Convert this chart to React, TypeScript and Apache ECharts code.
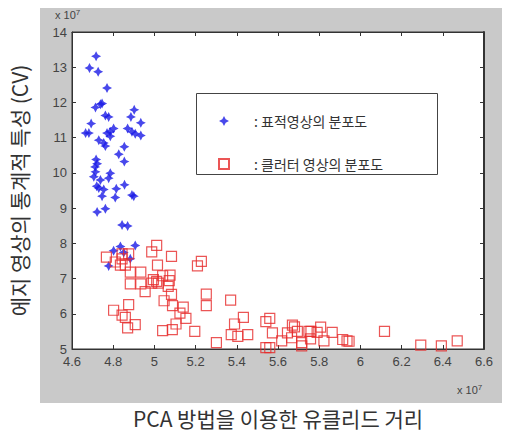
import React, { useEffect, useRef } from "react";
import * as echarts from "echarts";

// values are in units of 10^7
const targetX = [4.717, 4.685, 4.727, 4.770, 4.746, 4.738, 4.714, 4.762, 4.778, 4.693, 4.666, 4.682, 4.730, 4.754, 4.762, 4.770, 4.786, 4.785, 4.802, 4.902, 4.886, 4.934, 4.870, 4.891, 4.907, 4.934, 4.854, 4.827, 4.854, 4.717, 4.722, 4.712, 4.714, 4.786, 4.706, 4.738, 4.778, 4.720, 4.730, 4.754, 4.746, 4.815, 4.855, 4.810, 4.891, 4.900, 4.722, 4.762, 4.843, 4.870, 4.802, 4.835, 4.907, 4.778, 4.883, 4.851];
const targetY = [13.31, 12.98, 12.87, 12.41, 11.97, 11.95, 11.86, 11.63, 11.59, 11.40, 11.13, 11.13, 10.93, 10.85, 10.76, 11.13, 11.04, 11.17, 11.26, 11.79, 11.59, 11.42, 11.26, 11.17, 11.11, 11.06, 10.74, 10.53, 10.32, 10.38, 10.26, 10.17, 10.03, 9.99, 9.89, 9.80, 9.85, 9.62, 9.57, 9.53, 9.34, 9.55, 9.66, 9.30, 9.37, 9.34, 8.89, 8.98, 8.52, 8.49, 7.79, 7.91, 7.94, 7.36, 7.56, 7.74];

const clutterX = [4.767, 4.810, 4.843, 4.843, 4.835, 4.859, 4.875, 4.883, 4.883, 4.934, 4.934, 4.955, 4.987, 5.011, 5.083, 5.015, 4.995, 5.011, 4.987, 5.019, 5.040, 5.076, 5.072, 5.067, 5.083, 5.047, 5.088, 5.140, 5.124, 5.153, 5.105, 5.087, 5.040, 4.875, 4.802, 4.843, 4.859, 4.870, 4.907, 5.196, 5.209, 5.228, 5.252, 5.252, 5.301, 5.370, 5.389, 5.432, 5.373, 5.405, 5.453, 5.541, 5.560, 5.541, 5.560, 5.573, 5.618, 5.646, 5.670, 5.680, 5.694, 5.666, 5.715, 5.715, 5.750, 5.760, 5.758, 5.790, 5.807, 5.823, 5.863, 5.914, 5.935, 5.945, 6.117, 6.293, 6.393, 6.470];
const clutterY = [7.61, 7.47, 7.70, 7.56, 7.38, 7.38, 7.70, 7.18, 6.85, 7.18, 6.85, 6.63, 7.76, 7.94, 7.63, 7.38, 6.97, 6.92, 6.87, 6.87, 7.08, 7.10, 6.94, 6.78, 6.55, 6.37, 6.23, 6.19, 6.02, 5.87, 5.71, 5.55, 5.52, 6.26, 6.10, 5.96, 5.90, 5.60, 5.69, 5.50, 7.36, 7.49, 6.56, 6.23, 5.18, 6.39, 5.71, 5.90, 5.41, 5.36, 5.41, 5.78, 5.87, 5.04, 5.04, 5.46, 5.23, 5.46, 5.68, 5.63, 5.50, 5.32, 5.18, 5.09, 5.50, 5.50, 5.29, 5.47, 5.62, 5.23, 5.47, 5.27, 5.23, 5.22, 5.50, 5.11, 5.09, 5.23];

const seriesNames = [": 표적영상의 분포도", ": 클러터 영상의 분포도"];
const xTitle = "PCA 방법을 이용한 유클리드 거리";
const yTitle = "에지 영상의 통계적 특성 (CV)";
const xMin = 4.6, xMax = 6.6, xStep = 0.2;
const yMin = 5, yMax = 14, yStep = 1;

const FONT = '"Liberation Sans", Arial, "Noto Sans CJK KR", sans-serif';
const KFONT = '"Noto Sans CJK KR", "Liberation Sans", sans-serif';
const STAR = "path://M5,0 L6.7,3.3 L10,5 L6.7,6.7 L5,10 L3.3,6.7 L0,5 L3.3,3.3 Z";

export default function App() {
  const ref = useRef<HTMLDivElement>(null);
  useEffect(() => {
    if (!ref.current) return;
    const chart = echarts.init(ref.current, null, { renderer: "svg" });
    const fmt = (v: number) => String(+(+v).toFixed(1));
    const tickStyle = { show: true, inside: true, length: 4, lineStyle: { color: "#333" } };
    const lineStyle = { show: true, lineStyle: { color: "#333", width: 1 } };
    const sup = { s: { fontSize: 8, verticalAlign: "top", fill: "#444", padding: [0, 0, 6, 0] } };
    chart.setOption({
      animation: false,
      backgroundColor: "#fff",
      graphic: [
        { type: "rect", z: -10, silent: true, shape: { x: 40, y: 8, width: 462, height: 395 }, style: { fill: "#c9c9c9" } },
        { type: "rect", z: 5, silent: true, shape: { x: 196.5, y: 93.5, width: 241, height: 81 }, style: { fill: "#fff", stroke: "#444", lineWidth: 1 } },
        { type: "text", z: 5, left: 55, top: 8, style: { text: "x 10{s|7}", fill: "#444", font: `11px ${FONT}`, rich: sup } },
        { type: "text", z: 5, left: 457, top: 383, style: { text: "x 10{s|7}", fill: "#444", font: `11px ${FONT}`, rich: sup } },
      ],
      grid: { left: 68, top: 32, width: 416, height: 328, show: true, backgroundColor: "#fff", borderColor: "#333", borderWidth: 1 },
      legend: {
        orient: "vertical", left: 213, top: 109, itemGap: 29, itemWidth: 10, itemHeight: 10, z: 10,
        data: seriesNames,
        textStyle: { fontFamily: KFONT, fontSize: 14, color: "#333", padding: [0, 0, 0, 20] },
      },
      xAxis: [
        {
          type: "value", min: xMin, max: xMax, interval: xStep, position: "bottom",
          name: xTitle, nameLocation: "middle", nameGap: 58,
          nameTextStyle: { fontFamily: KFONT, fontSize: 21, color: "#333" },
          axisLine: lineStyle, axisTick: tickStyle, splitLine: { show: false },
          axisLabel: { formatter: fmt, color: "#444", fontFamily: FONT, fontSize: 13, margin: 6 },
        },
        {
          type: "value", min: xMin, max: xMax, interval: xStep, position: "top",
          axisLine: lineStyle, axisTick: tickStyle, splitLine: { show: false }, axisLabel: { show: false },
        },
      ],
      yAxis: [
        {
          type: "value", min: yMin, max: yMax, interval: yStep, position: "left",
          name: yTitle, nameLocation: "middle", nameGap: 43, nameRotate: 90,
          nameTextStyle: { fontFamily: KFONT, fontSize: 21, color: "#333" },
          axisLine: lineStyle, axisTick: tickStyle, splitLine: { show: false },
          axisLabel: { formatter: fmt, color: "#444", fontFamily: FONT, fontSize: 13, margin: 5 },
        },
        {
          type: "value", min: yMin, max: yMax, interval: yStep, position: "right",
          axisLine: { show: true, lineStyle: { color: "#333", width: 2 } }, axisTick: tickStyle, splitLine: { show: false }, axisLabel: { show: false },
        },
      ],
      series: [
        {
          name: seriesNames[0], type: "scatter", xAxisIndex: 0, yAxisIndex: 0,
          symbol: STAR, symbolSize: 10,
          itemStyle: { color: "#1a1ae6" },
          data: targetX.map((x, i) => [x, targetY[i]]),
        },
        {
          name: seriesNames[1], type: "scatter", xAxisIndex: 0, yAxisIndex: 0,
          symbol: "rect", symbolSize: 10,
          itemStyle: { color: "rgba(255,255,255,0)", borderColor: "#e62a2a", borderWidth: 1.2 },
          data: clutterX.map((x, i) => [x, clutterY[i]]),
        },
      ],
    });
    return () => chart.dispose();
  }, []);
  return (
    <div style={{ position: "fixed", left: 0, top: 0, width: 507, height: 433, background: "#fff" }}>
      <div ref={ref} style={{ width: 507, height: 433 }} />
    </div>
  );
}
